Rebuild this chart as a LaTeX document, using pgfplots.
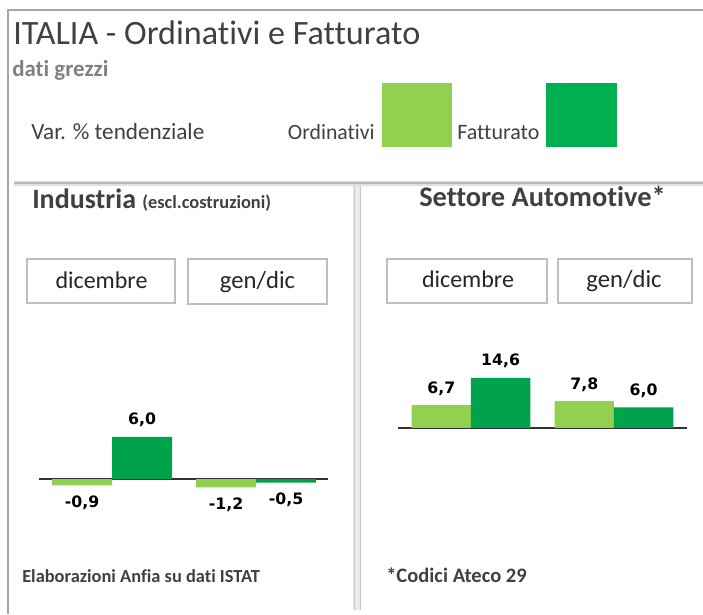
\documentclass[border=0pt]{standalone}
\usepackage{fontspec}
\setmainfont{Carlito}[Ligatures=NoCommon]
\newfontfamily\dejavu{DejaVu Sans}
\usepackage{pgfplots}
\usepackage{pgfplotstable}
\pgfplotsset{compat=1.18}
\definecolor{txt}{HTML}{404040}
\definecolor{subtxt}{HTML}{808080}
\definecolor{lgreen}{HTML}{92D050}
\definecolor{dgreen}{HTML}{00B050}
\definecolor{dbar}{HTML}{00A24B}
\definecolor{frame}{HTML}{A6A6A6}
\definecolor{boxline}{HTML}{BFBFBF}

\pgfplotstableread{
cat ord fat
0 -0.9 6.0
1 -1.2 -0.5
}\industria
\pgfplotstableread{
cat ord fat
0 6.7 14.6
1 7.8 6.0
}\automotive

\pgfplotsset{panel/.style={
  anchor=south west,
  axis x line=middle, axis y line=none,
  axis line style={-, draw=black!80, line width=0.8pt},
  xtick=\empty, ytick=\empty,
  ybar=0pt,
  clip=false,
  nodes near coords,
  every node near coord/.append style={font=\fontsize{11.8}{14}\dejavu\bfseries, text=black,
     inner sep=0pt, text height=0.73em, text depth=0pt, outer ysep=9pt},
  /pgf/number format/assume math mode=true,
  /pgf/number format/use comma,
  /pgf/number format/fixed,
  /pgf/number format/fixed zerofill,
  /pgf/number format/precision=1,
}}

\begin{document}
\begin{tikzpicture}[x=0.75pt,y=-0.75pt]
\path[use as bounding box] (0,0) rectangle (703,614);
% frame lines
\draw[frame, line width=1.5pt] (8,614) -- (8,10) -- (703,10);
\fill[black!12] (14,181) rectangle (703,186);
\draw[black!28, line width=1.2pt] (14,183) -- (703,183);
\fill[black!8] (353,186) rectangle (361,610);
\draw[black!22, line width=0.6pt] (354,186) -- (354,610);
\draw[black!22, line width=0.6pt] (360,186) -- (360,610);

% header
\node[anchor=base west, inner sep=0pt, text=txt, font=\fontsize{25.6}{29}\selectfont] at (13,44) {ITALIA - Ordinativi e Fatturato};
\node[anchor=base west, inner sep=0pt, text=subtxt, font=\fontsize{17.2}{20}\selectfont\bfseries] at (12,76) {dati grezzi};
\node[anchor=base west, inner sep=0pt, text=txt, font=\fontsize{17.4}{20}\selectfont] at (31,139) {Var. \% tendenziale};
\node[anchor=base east, inner sep=0pt, text=txt, font=\fontsize{16.3}{20}\selectfont] at (375,139) {Ordinativi};
\fill[lgreen] (382,83) rectangle (452,147);
\node[anchor=base west, inner sep=0pt, text=txt, font=\fontsize{16.5}{20}\selectfont] at (457,139) {Fatturato};
\fill[dgreen] (546,83) rectangle (617,147);

% panel titles
\node[anchor=base west, inner sep=0pt, text=txt, font=\fontsize{21}{24}\selectfont\bfseries] at (32,208) {Industria \fontsize{13.8}{16}\selectfont(escl.costruzioni)};
\node[anchor=base, inner sep=0pt, text=txt, font=\fontsize{21.3}{24}\selectfont\bfseries] at (542.5,206) {Settore Automotive*};

% period boxes
\draw[boxline, line width=1.1pt, fill=white] (27,259) rectangle (175,303);
\draw[boxline, line width=1.1pt, fill=white] (188,259) rectangle (327,304);
\draw[boxline, line width=1.1pt, fill=white] (387,259) rectangle (547,303);
\draw[boxline, line width=1.1pt, fill=white] (558,259) rectangle (692,303);
\node[anchor=base, inner sep=0pt, text=black!85, font=\fontsize{18}{21}\selectfont] at (101.5,288) {dicembre};
\node[anchor=base, inner sep=0pt, text=black!85, font=\fontsize{18.5}{21}\selectfont] at (257.5,288) {gen/dic};
\node[anchor=base, inner sep=0pt, text=black!85, font=\fontsize{18}{21}\selectfont] at (468,287) {dicembre};
\node[anchor=base, inner sep=0pt, text=black!85, font=\fontsize{18.5}{21}\selectfont] at (624,287) {gen/dic};

% footnotes
\node[anchor=base west, inner sep=0pt, text=txt, font=\fontsize{13.8}{16}\selectfont\bfseries] at (22,582) {Elaborazioni Anfia su dati ISTAT};
\node[anchor=base west, inner sep=0pt, text=txt, font=\fontsize{15.4}{18}\selectfont\bfseries] at (386,582) {*Codici Ateco 29};

% Industria chart
\begin{axis}[panel, at={(29.25pt,-375pt)},
  x=108pt, y=5.25pt, bar width=45pt,
  xmin=-0.507, xmax=1.5, ymin=-3, ymax=8]
\addplot[fill=lgreen, draw=none] table[x=cat,y=ord]{\industria};
\addplot[fill=dbar, draw=none] table[x=cat,y=fat]{\industria};
\end{axis}

% Automotive chart
\begin{axis}[panel, at={(298.5pt,-328.7pt)},
  x=107.25pt, y=2.5725pt, bar width=44.5pt,
  xmin=-0.51, xmax=1.51, ymin=-3, ymax=18]
\addplot[fill=lgreen, draw=none] table[x=cat,y=ord]{\automotive};
\addplot[fill=dbar, draw=none] table[x=cat,y=fat]{\automotive};
\end{axis}
\end{tikzpicture}
\end{document}
